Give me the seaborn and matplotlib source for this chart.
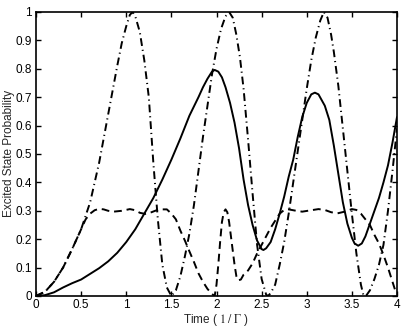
import numpy as np
import pandas as pd
import matplotlib
matplotlib.use("Agg")
import matplotlib.pyplot as plt
import seaborn as sns

# ---- data ----
solid_x = [0, 0.1, 0.2, 0.3, 0.4, 0.5, 0.6, 0.7, 0.8, 0.9, 1.0, 1.1, 1.2, 1.3, 1.4,
           1.5, 1.6, 1.7, 1.8, 1.85, 1.9, 1.95, 1.98, 2.02, 2.06, 2.1, 2.15, 2.2,
           2.25, 2.3, 2.35, 2.4, 2.45, 2.5, 2.52, 2.55, 2.6, 2.65, 2.7, 2.75, 2.8,
           2.85, 2.9, 2.95, 3.0, 3.05, 3.09, 3.13, 3.2, 3.25, 3.3, 3.35, 3.4, 3.45,
           3.5, 3.53, 3.57, 3.61, 3.65, 3.7, 3.75, 3.8, 3.85, 3.9, 3.95, 4.0]
solid_y = [0, 0.003, 0.013, 0.03, 0.045, 0.058, 0.078, 0.098, 0.122, 0.152, 0.19,
           0.235, 0.29, 0.345, 0.41, 0.48, 0.555, 0.635, 0.70, 0.735, 0.765, 0.79,
           0.796, 0.79, 0.77, 0.735, 0.68, 0.61, 0.52, 0.41, 0.32, 0.25, 0.195,
           0.165, 0.162, 0.168, 0.19, 0.235, 0.29, 0.35, 0.42, 0.48, 0.56, 0.63,
           0.68, 0.71, 0.716, 0.71, 0.67, 0.62, 0.53, 0.43, 0.33, 0.255, 0.205,
           0.185, 0.177, 0.185, 0.21, 0.255, 0.30, 0.345, 0.40, 0.46, 0.54, 0.63]

dashed_x = [0, 0.1, 0.2, 0.3, 0.4, 0.5, 0.55, 0.6, 0.65, 0.7, 0.75, 0.8, 0.86, 0.95,
            1.04, 1.1, 1.15, 1.21, 1.28, 1.36, 1.45, 1.5, 1.55, 1.6, 1.65, 1.7, 1.75,
            1.8, 1.85, 1.9, 1.95, 1.98, 2.0, 2.02, 2.04, 2.06, 2.08, 2.1, 2.12, 2.14,
            2.16, 2.18, 2.2, 2.22, 2.24, 2.27, 2.3, 2.35, 2.4, 2.45, 2.5, 2.55, 2.6,
            2.65, 2.7, 2.75, 2.8, 2.9, 2.95, 3.05, 3.13, 3.2, 3.27, 3.34, 3.42, 3.5,
            3.55, 3.6, 3.65, 3.7, 3.75, 3.8, 3.85, 3.9, 3.95, 3.98, 4.0]
dashed_y = [0, 0.015, 0.05, 0.10, 0.165, 0.235, 0.27, 0.29, 0.302, 0.307, 0.305, 0.300,
            0.297, 0.300, 0.306, 0.302, 0.293, 0.289, 0.295, 0.305, 0.305, 0.29, 0.27,
            0.23, 0.195, 0.157, 0.12, 0.08, 0.05, 0.025, 0.007, 0.0, 0.04, 0.11, 0.19,
            0.26, 0.295, 0.305, 0.295, 0.26, 0.21, 0.16, 0.11, 0.07, 0.055, 0.058,
            0.075, 0.09, 0.115, 0.15, 0.18, 0.21, 0.24, 0.265, 0.29, 0.303, 0.305,
            0.299, 0.297, 0.302, 0.306, 0.303, 0.295, 0.291, 0.297, 0.306, 0.303,
            0.29, 0.27, 0.25, 0.215, 0.185, 0.145, 0.10, 0.05, 0.02, 0.01]

dashdot_x = [0, 0.1, 0.2, 0.3, 0.4, 0.5, 0.6, 0.7, 0.8, 0.9, 0.95, 1.0, 1.04, 1.07,
             1.1, 1.15, 1.2, 1.25, 1.3, 1.35, 1.4, 1.45, 1.5, 1.55, 1.6, 1.65, 1.7,
             1.75, 1.8, 1.85, 1.9, 1.95, 2.0, 2.05, 2.1, 2.14, 2.18, 2.22, 2.26, 2.3,
             2.35, 2.4, 2.45, 2.5, 2.55, 2.57, 2.6, 2.65, 2.7, 2.75, 2.8, 2.85, 2.9,
             2.95, 3.0, 3.05, 3.1, 3.15, 3.19, 3.23, 3.27, 3.3, 3.35, 3.4, 3.45, 3.5,
             3.55, 3.6, 3.63, 3.66, 3.7, 3.75, 3.8, 3.85, 3.9, 3.95, 4.0]
dashdot_y = [0, 0.015, 0.05, 0.10, 0.165, 0.235, 0.33, 0.47, 0.64, 0.81, 0.89, 0.95,
             0.99, 1.0, 0.985, 0.93, 0.83, 0.70, 0.47, 0.27, 0.11, 0.03, 0.0, 0.02,
             0.07, 0.14, 0.22, 0.32, 0.44, 0.56, 0.67, 0.78, 0.87, 0.94, 0.985, 1.0,
             0.98, 0.92, 0.84, 0.73, 0.55, 0.36, 0.18, 0.06, 0.005, 0.0, 0.01, 0.04,
             0.11, 0.19, 0.29, 0.40, 0.51, 0.62, 0.73, 0.83, 0.91, 0.97, 1.0, 0.98,
             0.92, 0.86, 0.74, 0.59, 0.44, 0.29, 0.15, 0.04, 0.0, 0.002, 0.02, 0.06,
             0.11, 0.18, 0.30, 0.44, 0.59]

x_ticks = [0, 0.5, 1, 1.5, 2, 2.5, 3, 3.5, 4]
x_tick_labels = ["0", "0.5", "1", "1.5", "2", "2.5", "3", "3.5", "4"]
y_ticks = [0, 0.1, 0.2, 0.3, 0.4, 0.5, 0.6, 0.7, 0.8, 0.9, 1]
y_tick_labels = ["0", "0.1", "0.2", "0.3", "0.4", "0.5", "0.6", "0.7", "0.8", "0.9", "1"]

# ---- style ----
sns.set_theme(style="ticks")
plt.rcParams["font.family"] = ["Liberation Sans", "DejaVu Sans"]
plt.rcParams["mathtext.fontset"] = "stix"

fig = plt.figure(figsize=(4.05, 3.27), dpi=100)
fig.patch.set_facecolor("white")
ax = fig.add_axes([36 / 405, 1 - 296 / 327, 361 / 405, 284 / 327])
ax.set_facecolor("white")

lw = 1.4
sns.lineplot(x=solid_x, y=solid_y, ax=ax, color="black", linewidth=lw,
             linestyle="-", sort=False, estimator=None)
sns.lineplot(x=dashed_x, y=dashed_y, ax=ax, color="black", linewidth=lw,
             linestyle=(0, (4, 2.5)), sort=False, estimator=None)
sns.lineplot(x=dashdot_x, y=dashdot_y, ax=ax, color="black", linewidth=lw,
             linestyle=(0, (4, 2, 0.6, 2)), sort=False, estimator=None)

ax.set_xlim(0, 4)
ax.set_ylim(0, 1)
ax.set_xticks(x_ticks)
ax.set_xticklabels(x_tick_labels)
ax.set_yticks(y_ticks)
ax.set_yticklabels(y_tick_labels)

for s in ax.spines.values():
    s.set_visible(True)
    s.set_color("black")
    s.set_linewidth(1.2)

ax.tick_params(direction="in", length=3.5, width=1.0, colors="black",
               labelsize=8.5, top=True, right=True)
ax.tick_params(axis="x", pad=2.5)
ax.tick_params(axis="y", pad=3)

ax.set_xlabel(r"Time ( $1\;/\;\Gamma$ )", fontsize=8.5)
ax.set_ylabel("Excited State Probability", fontsize=8.5)
ax.xaxis.set_label_coords((216 - 36) / 361, (296 - 320) / 284)
ax.yaxis.set_label_coords((9 - 36) / 361, (296 - 153) / 284)
ax.xaxis.label.set_verticalalignment("center")
ax.yaxis.label.set_verticalalignment("center")

fig.savefig("out.png", dpi=100, facecolor="white")
